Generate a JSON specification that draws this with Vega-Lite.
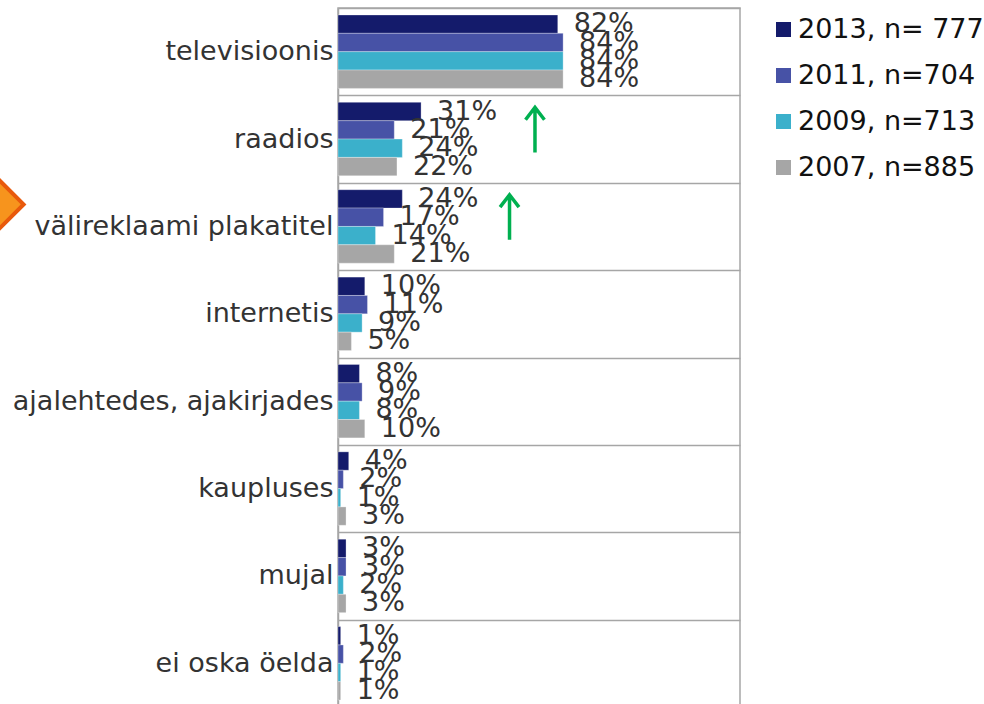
{
  "$schema": "https://vega.github.io/schema/vega-lite/v6.json",
  "autosize": {"type": "none"},
  "padding": {"left": 338, "top": 8, "right": 244, "bottom": 0},
  "width": 402,
  "height": 699,
  "background": "white",
  "config": {
    "font": "DejaVu Sans",
    "view": {"stroke": "#A6A6A6", "strokeWidth": 1.5}
  },
  "datasets": {
    "bars": [
      {"category": "televisioonis", "series": "2013, n= 777", "value": 82},
      {"category": "televisioonis", "series": "2011, n=704", "value": 84},
      {"category": "televisioonis", "series": "2009, n=713", "value": 84},
      {"category": "televisioonis", "series": "2007, n=885", "value": 84},
      {"category": "raadios", "series": "2013, n= 777", "value": 31},
      {"category": "raadios", "series": "2011, n=704", "value": 21},
      {"category": "raadios", "series": "2009, n=713", "value": 24},
      {"category": "raadios", "series": "2007, n=885", "value": 22},
      {"category": "välireklaami plakatitel", "series": "2013, n= 777", "value": 24},
      {"category": "välireklaami plakatitel", "series": "2011, n=704", "value": 17},
      {"category": "välireklaami plakatitel", "series": "2009, n=713", "value": 14},
      {"category": "välireklaami plakatitel", "series": "2007, n=885", "value": 21},
      {"category": "internetis", "series": "2013, n= 777", "value": 10},
      {"category": "internetis", "series": "2011, n=704", "value": 11},
      {"category": "internetis", "series": "2009, n=713", "value": 9},
      {"category": "internetis", "series": "2007, n=885", "value": 5},
      {"category": "ajalehtedes, ajakirjades", "series": "2013, n= 777", "value": 8},
      {"category": "ajalehtedes, ajakirjades", "series": "2011, n=704", "value": 9},
      {"category": "ajalehtedes, ajakirjades", "series": "2009, n=713", "value": 8},
      {"category": "ajalehtedes, ajakirjades", "series": "2007, n=885", "value": 10},
      {"category": "kaupluses", "series": "2013, n= 777", "value": 4},
      {"category": "kaupluses", "series": "2011, n=704", "value": 2},
      {"category": "kaupluses", "series": "2009, n=713", "value": 1},
      {"category": "kaupluses", "series": "2007, n=885", "value": 3},
      {"category": "mujal", "series": "2013, n= 777", "value": 3},
      {"category": "mujal", "series": "2011, n=704", "value": 3},
      {"category": "mujal", "series": "2009, n=713", "value": 2},
      {"category": "mujal", "series": "2007, n=885", "value": 3},
      {"category": "ei oska öelda", "series": "2013, n= 777", "value": 1},
      {"category": "ei oska öelda", "series": "2011, n=704", "value": 2},
      {"category": "ei oska öelda", "series": "2009, n=713", "value": 1},
      {"category": "ei oska öelda", "series": "2007, n=885", "value": 1}
    ],
    "arrows": [
      {"category": "raadios", "series": "2011, n=704", "value": 73.5},
      {"category": "välireklaami plakatitel", "series": "2011, n=704", "value": 64}
    ],
    "marker": [
      {"category": "välireklaami plakatitel", "value": -130}
    ]
  },
  "encoding": {
    "y": {
      "field": "category", "type": "nominal",
      "scale": {"domain": ["televisioonis", "raadios", "välireklaami plakatitel", "internetis", "ajalehtedes, ajakirjades", "kaupluses", "mujal", "ei oska öelda"], "paddingInner": 0, "paddingOuter": 0},
      "axis": {
        "title": null, "ticks": false, "labelPadding": 5, "labelFontSize": 27, "labelColor": "#333333",
        "labelLimit": 400, "grid": true, "tickBand": "extent", "gridColor": "#A6A6A6", "gridWidth": 1.5,
        "domainColor": "#A6A6A6", "domainWidth": 1.5
      }
    },
    "x": {
      "field": "value", "type": "quantitative",
      "scale": {"domain": [0, 150], "nice": false},
      "axis": null
    }
  },
  "layer": [
    {
      "data": {"name": "bars"},
      "mark": {"type": "bar", "stroke": "white", "strokeWidth": 0.5, "strokeOpacity": 0.6},
      "encoding": {
        "yOffset": {
          "field": "series", "type": "nominal",
          "scale": {"domain": ["2013, n= 777", "2011, n=704", "2009, n=713", "2007, n=885"], "paddingInner": 0, "paddingOuter": 0.38}
        },
        "color": {
          "field": "series", "type": "nominal",
          "scale": {"domain": ["2013, n= 777", "2011, n=704", "2009, n=713", "2007, n=885"], "range": ["#141B6B", "#4752A6", "#3BB0CB", "#A6A6A6"]},
          "legend": {
            "title": null, "orient": "none", "legendX": 432, "legendY": 8, "direction": "vertical",
            "symbolType": "square", "symbolSize": 225, "symbolStrokeWidth": 0, "symbolOpacity": 1,
            "labelFontSize": 27, "labelColor": "#111111", "labelOffset": 1, "rowPadding": 18, "padding": 0, "labelLimit": 300
          }
        }
      }
    },
    {
      "data": {"name": "bars"},
      "transform": [{"calculate": "datum.value + '%'", "as": "label"}],
      "mark": {"type": "text", "align": "left", "baseline": "middle", "dx": 16, "fontSize": 27, "color": "#333333"},
      "encoding": {
        "yOffset": {"field": "series", "type": "nominal"},
        "text": {"field": "label", "type": "nominal"}
      }
    },
    {
      "data": {"name": "arrows"},
      "mark": {"type": "point", "shape": "M-0.42,-0.45 L0,-1 L0.42,-0.45 M0,-1 L0,1", "filled": false, "size": 2025, "stroke": "#00B050", "strokeWidth": 3.5, "opacity": 1},
      "encoding": {
        "yOffset": {"field": "series", "type": "nominal"}
      }
    },
    {
      "data": {"name": "marker"},
      "mark": {"type": "point", "shape": "diamond", "filled": true, "size": 4624, "fill": "#F7941D", "stroke": "#E8590C", "strokeWidth": 4, "opacity": 1, "yOffset": -22}
    }
  ]
}
